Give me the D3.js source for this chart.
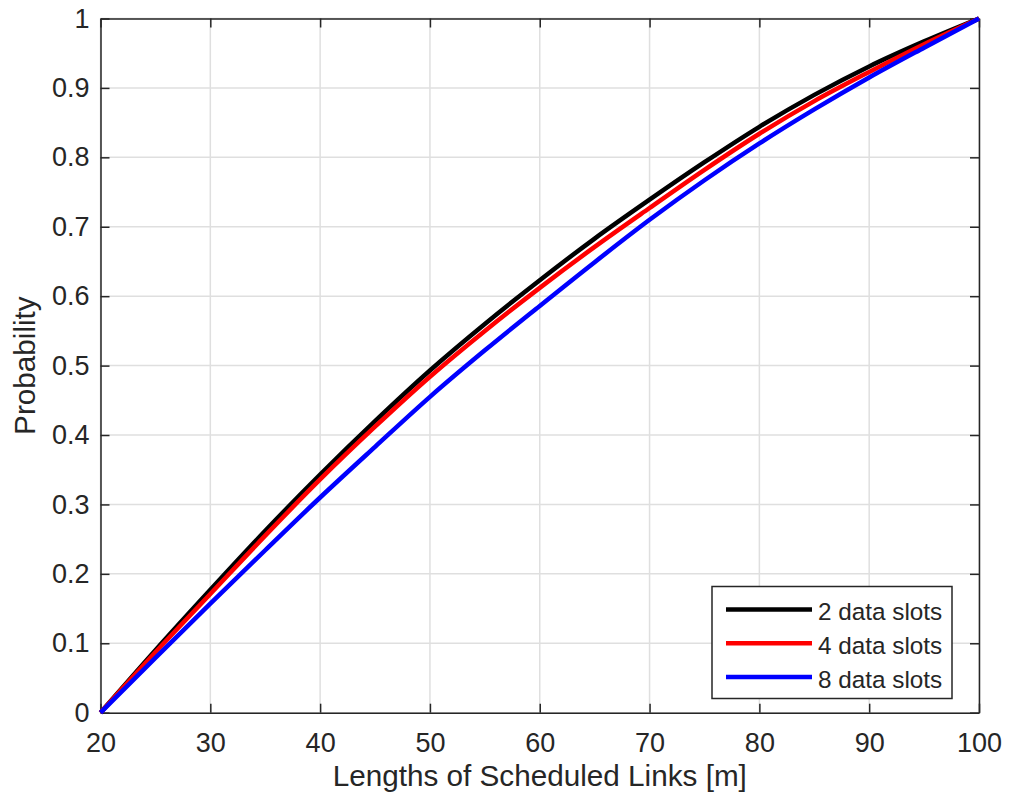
<!DOCTYPE html>
<html><head><meta charset="utf-8">
<script src="https://cdn.jsdelivr.net/npm/d3@7"></script>
<style>body{margin:0;background:#fff}svg{display:block}text{font-family:"Liberation Sans",Arial,sans-serif;fill:#262626}</style>
</head><body>
<script>
const xVals = [20,25,30,35,40,45,50,55,60,65,70,75,80,85,90,95,100];
const slots2 = [0,0.09,0.177,0.262,0.343,0.42,0.493,0.56,0.623,0.683,0.739,0.793,0.844,0.89,0.931,0.967,1];
const slots4 = [0,0.087,0.171,0.255,0.336,0.412,0.484,0.55,0.612,0.671,0.727,0.782,0.834,0.881,0.923,0.963,1];
const slots8 = [0,0.079,0.157,0.234,0.31,0.383,0.455,0.522,0.586,0.649,0.71,0.767,0.82,0.869,0.915,0.958,1];
const seriesNames = ["2 data slots","4 data slots","8 data slots"];
const seriesColors = ["#000000","#ff0000","#0000ff"];
const xTicks = [20,30,40,50,60,70,80,90,100];
const yTicks = [0,0.1,0.2,0.3,0.4,0.5,0.6,0.7,0.8,0.9,1];
const xLabel = "Lengths of Scheduled Links [m]";
const yLabel = "Probability";

const W=1011,H=803, L=100.5,R=979,T=18.5,B=712.7;
const svg=d3.select("body").append("svg").attr("width",W).attr("height",H);
const x=d3.scaleLinear().domain([20,100]).range([L,R]);
const y=d3.scaleLinear().domain([0,1]).range([B,T]);

// grid
const g=svg.append("g");
g.selectAll(".gx").data(xTicks).join("line").attr("x1",d=>x(d)).attr("x2",d=>x(d)).attr("y1",T).attr("y2",B).attr("stroke","#dfdfdf").attr("stroke-width",1.5);
g.selectAll(".gy").data(yTicks).join("line").attr("y1",d=>y(d)).attr("y2",d=>y(d)).attr("x1",L).attr("x2",R).attr("stroke","#dfdfdf").attr("stroke-width",1.5);

// axes
const tl=9;
const axB=svg.append("g").attr("transform",`translate(0,${B})`).call(d3.axisBottom(x).tickValues(xTicks).tickFormat(d3.format("d")).tickSizeInner(-tl).tickSizeOuter(0).tickPadding(20));
const axT=svg.append("g").attr("transform",`translate(0,${T})`).call(d3.axisTop(x).tickValues(xTicks).tickFormat("").tickSizeInner(-tl).tickSizeOuter(0));
const axL=svg.append("g").attr("transform",`translate(${L},0)`).call(d3.axisLeft(y).tickValues(yTicks).tickFormat(d=>d3.format("~g")(d)).tickSizeInner(-tl).tickSizeOuter(0).tickPadding(11));
const axR=svg.append("g").attr("transform",`translate(${R},0)`).call(d3.axisRight(y).tickValues(yTicks).tickFormat("").tickSizeInner(-tl).tickSizeOuter(0));
[axB,axT,axL,axR].forEach(a=>{a.selectAll("path").attr("stroke","#262626").attr("stroke-width",1.5);a.selectAll("line").attr("stroke","#262626").attr("stroke-width",1.5);a.selectAll("text").attr("font-size",27).attr("fill","#262626").attr("font-family","Liberation Sans, Arial, sans-serif");});

// lines
const data=[slots2,slots4,slots8];
const line=d3.line().x((d,i)=>x(xVals[i])).y(d=>y(d)).curve(d3.curveMonotoneX);
data.forEach((s,k)=>{
  svg.append("path").datum(s).attr("d",line).attr("fill","none").attr("stroke",seriesColors[k]).attr("stroke-width",4.5).attr("stroke-linejoin","round");
});

// labels
svg.append("text").attr("x",(L+R)/2).attr("y",786).attr("text-anchor","middle").attr("font-size",29.7).text(xLabel);
svg.append("text").attr("transform",`translate(35,${(T+B)/2}) rotate(-90)`).attr("text-anchor","middle").attr("font-size",29.7).text(yLabel);

// legend
const lg=svg.append("g");
lg.append("rect").attr("x",712).attr("y",586.5).attr("width",240).attr("height",112).attr("fill","#fff").attr("stroke","#262626").attr("stroke-width",1.5);
seriesNames.forEach((n,k)=>{
  const yy=609.5+k*33.7;
  lg.append("line").attr("x1",726).attr("x2",812).attr("y1",yy).attr("y2",yy).attr("stroke",seriesColors[k]).attr("stroke-width",4.5);
  lg.append("text").attr("x",818).attr("y",yy+10.7).attr("font-size",24.3).text(n);
});
</script>
</body></html>
